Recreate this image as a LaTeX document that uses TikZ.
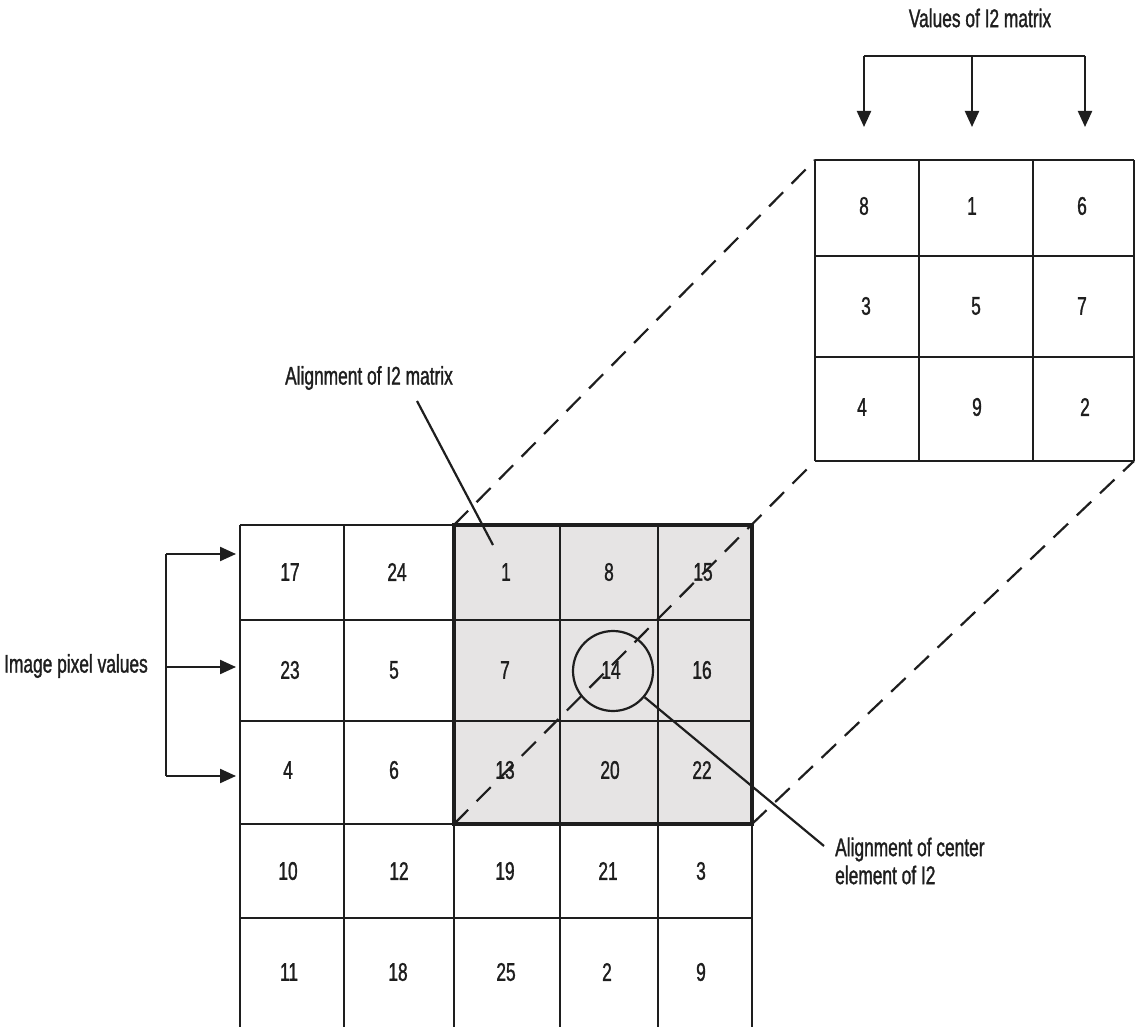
\documentclass[tikz,border=0pt]{standalone}
\usepackage{fontspec}
\setmainfont{Liberation Sans}[FakeStretch=0.68,FakeBold=1.2]
\usetikzlibrary{arrows.meta}
\definecolor{cellgray}{RGB}{230,228,228}
\definecolor{ink}{RGB}{30,30,30}
\begin{document}
\begin{tikzpicture}[x=1pt,y=-1pt,
  txt/.style={font=\fontsize{25.5}{28}\selectfont, inner sep=0pt, text=ink},
  gridline/.style={line width=2.2pt, draw=ink},
  boldframe/.style={line width=4pt, draw=ink},
  dashline/.style={line width=2.2pt, draw=ink, dash pattern=on 20pt off 12pt},
  arr/.style={line width=2.2pt, draw=ink, -{Triangle[length=16pt,width=14pt]}},
  ring/.style={draw=ink, circle, minimum size=80pt, line width=2.2pt, inner sep=0pt}
]
\path[fill=white] (0,0) rectangle (1136,1027);
\useasboundingbox (0,0) rectangle (1136,1027);

% gray region of the I2 alignment
\fill[cellgray] (454,525) rectangle (752,824);

% dashed projection lines
\coordinate (gTL) at (454,525);
\coordinate (gBL) at (454,824);
\coordinate (gBR) at (752,824);
\coordinate (sTL) at (815,160);
\coordinate (sBL) at (815,461);
\coordinate (sBR) at (1134,461);
\draw[dashline] (gTL) -- (sTL);
\draw[dashline] (gBL) -- (sBL);
\draw[dashline] (gBR) -- (sBR);

% big grid lines
\foreach \yy in {525,620,721,824,918}
  \draw[gridline] (240,\yy) -- (752,\yy);
\foreach \xx in {240,344,454,560,658,752}
  \draw[gridline] (\xx,525) -- (\xx,1027);
\draw[boldframe] (454,525) rectangle (752,824);

% small grid lines
\foreach \yy in {160,256,357,461}
  \draw[gridline] (815,\yy) -- (1134,\yy);
\foreach \xx in {815,919,1033,1134}
  \draw[gridline] (\xx,160) -- (\xx,461);

% big grid numbers
\foreach \cx/\t [count=\k] in {290/17,397/24,506/1,609/8,703/15}
  \node[txt] (b1\k) at (\cx,572) {\t};
\foreach \cx/\t [count=\k] in {290/23,394/5,505/7,611/14,702/16}
  \node[txt] (b2\k) at (\cx,670) {\t};
\foreach \cx/\t [count=\k] in {288/4,394/6,505/13,610/20,702/22}
  \node[txt] (b3\k) at (\cx,770) {\t};
\foreach \cx/\t [count=\k] in {288/10,399/12,505/19,608/21,701/3}
  \node[txt] (b4\k) at (\cx,871) {\t};
\foreach \cx/\t [count=\k] in {289/11,398/18,506/25,607/2,701/9}
  \node[txt] (b5\k) at (\cx,972) {\t};

% small grid numbers
\foreach \cx/\t [count=\k] in {864/8,972/1,1082/6}
  \node[txt] (s1\k) at (\cx,206) {\t};
\foreach \cx/\t [count=\k] in {866/3,976/5,1082/7}
  \node[txt] (s2\k) at (\cx,306) {\t};
\foreach \cx/\t [count=\k] in {862/4,977/9,1085/2}
  \node[txt] (s3\k) at (\cx,407) {\t};

% top arrows: values of I2 matrix
\node[txt] (topLab) at (980,18) {Values of I2 matrix};
\coordinate (tL) at (864,56);
\coordinate (tM) at (972,56);
\coordinate (tR) at (1085,56);
\coordinate (tLe) at (864,127);
\coordinate (tMe) at (972,127);
\coordinate (tRe) at (1085,127);
\draw[gridline] (tL) -- (tR);
\draw[arr] (tL) -- (tLe);
\draw[arr] (tM) -- (tMe);
\draw[arr] (tR) -- (tRe);

% left arrows: image pixel values
\node[txt, anchor=east] (leftLab) at (148,666) {Image pixel values};
\coordinate (lT) at (166,554);
\coordinate (lM) at (166,667);
\coordinate (lB) at (166,776);
\coordinate (lTe) at (236,554);
\coordinate (lMe) at (236,667);
\coordinate (lBe) at (236,776);
\draw[gridline] (lT) -- (lB);
\draw[arr] (lT) -- (lTe);
\draw[arr] (lM) -- (lMe);
\draw[arr] (lB) -- (lBe);

% alignment of I2 matrix
\node[txt] (alignLab) at (369,378) {Alignment of I2 matrix};
\coordinate (aS) at (417,401);
\coordinate (aE) at (493,545);
\draw[gridline] (aS) -- (aE);

% center element
\node[ring] (circ) at (613,671) {};
\coordinate (cE) at (824,846);
\draw[gridline] (circ) -- (cE);
\node[txt, anchor=west, align=left] (centerLab) at (835,861) {Alignment of center\\element of I2};
\end{tikzpicture}
\end{document}
